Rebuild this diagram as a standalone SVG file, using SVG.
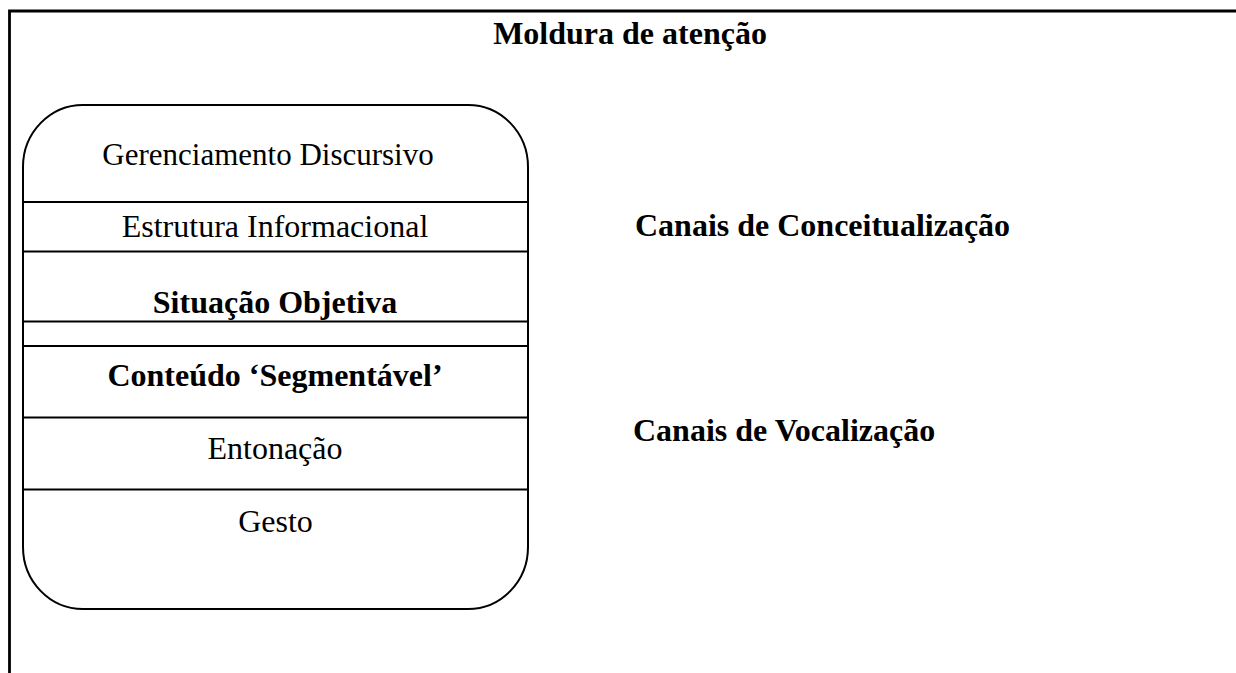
<svg xmlns="http://www.w3.org/2000/svg" width="1236" height="673" viewBox="0 0 1236 673">
<style>
.t{font-family:"Liberation Serif","Times New Roman",serif;font-size:32px;fill:#000}
.c{text-anchor:middle}
.b{font-weight:bold}
.ln{stroke:#000;stroke-width:2;fill:none}
</style>
<rect width="1236" height="673" fill="#fff"/>
<g id="frame">
<path d="M9.5 673 V11 H1236" fill="none" stroke="#000" stroke-width="2.8"/>
<text class="t b c" x="630" y="44">Moldura de atenção</text>
</g>
<g id="stack">
<rect class="ln" x="23" y="105" width="505" height="504" rx="60" ry="62"/>
<g id="connectors">
<line class="ln" x1="23" y1="202" x2="528" y2="202"/>
<line class="ln" x1="23" y1="251.5" x2="528" y2="251.5"/>
<line class="ln" x1="23" y1="321.5" x2="528" y2="321.5"/>
<line class="ln" x1="23" y1="346" x2="528" y2="346"/>
<line class="ln" x1="23" y1="417.5" x2="528" y2="417.5"/>
<line class="ln" x1="23" y1="489.5" x2="528" y2="489.5"/>
</g>
<g id="gerenciamento"><text class="t c" x="268" y="165" style="font-size:31px">Gerenciamento Discursivo</text></g>
<g id="estrutura"><text class="t c" x="275" y="237">Estrutura Informacional</text></g>
<g id="situacao"><text class="t b c" x="275" y="313">Situação Objetiva</text></g>
<g id="conteudo"><text class="t b c" x="275" y="386">Conteúdo ‘Segmentável’</text></g>
<g id="entonacao"><text class="t c" x="275" y="459">Entonação</text></g>
<g id="gesto"><text class="t c" x="275.5" y="532">Gesto</text></g>
</g>
<g id="canais-conceitualizacao"><text class="t b" x="635" y="236">Canais de Conceitualização</text></g>
<g id="canais-vocalizacao"><text class="t b" x="633" y="441">Canais de Vocalização</text></g>
</svg>
